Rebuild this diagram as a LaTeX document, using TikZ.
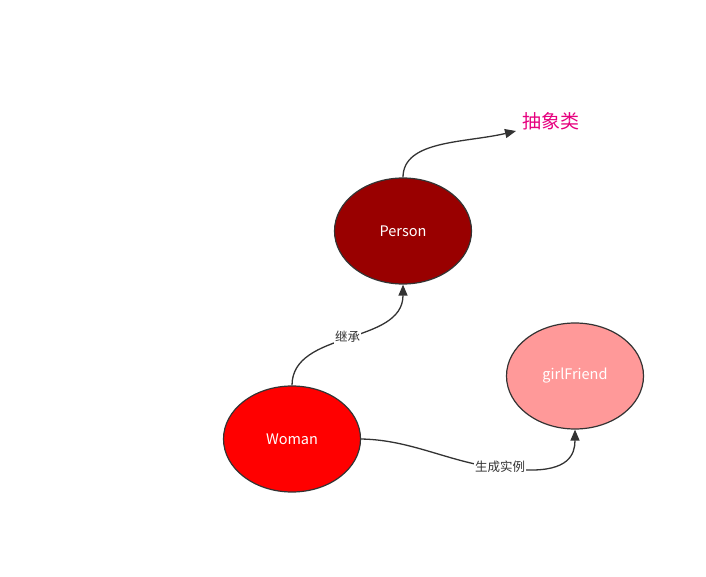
\documentclass[tikz,border=0pt]{standalone}
\usepackage{fontspec}
\setmainfont{Noto Sans CJK SC}
\usetikzlibrary{arrows.meta,shapes.geometric}
\definecolor{edgegray}{HTML}{333333}
\definecolor{darkred}{HTML}{990000}
\definecolor{pinkred}{HTML}{FF9999}
\definecolor{magentatext}{HTML}{E6007E}
\begin{document}
\begin{tikzpicture}[x=1pt,y=-1pt,
  ell/.style={ellipse, draw=edgegray, line width=1.2pt, minimum width=137pt, minimum height=106pt, inner sep=0pt, text=white, font=\fontsize{14.5}{16}\selectfont},
  conn/.style={draw=edgegray, line width=1.3pt, -{Triangle[length=11pt,width=9pt]}},
  lbl/.style={fill=white, inner sep=1pt, text=edgegray, font=\fontsize{12.5}{14}\selectfont}]
\useasboundingbox (0,0) rectangle (706,577);
\node[ell, fill=darkred] (person) at (403,231) {Person};
\node[ell, fill=red] (woman) at (292,439) {Woman};
\node[ell, fill=pinkred] (girl) at (575,376) {girlFriend};
\node[text=magentatext, font=\fontsize{19}{22}\selectfont] (abs) at (551,121) {抽象类};
\coordinate (absend) at (516,131);
\draw[conn] (person.north) .. controls (403,140) and (465,143) .. (absend);
\draw[conn] (woman.north) .. controls (292,330) and (403,345) .. (person.south) node[lbl, pos=0.5] {继承};
\coordinate (mid) at (527,470);
\draw[edgegray, line width=1.3pt] (woman.east) .. controls (420,440) and (460,470) .. (mid);
\draw[conn] (mid) .. controls (568,471) and (575,455) .. (girl.south);
\node[lbl] (l2) at (500,467) {生成实例};
\end{tikzpicture}
\end{document}
